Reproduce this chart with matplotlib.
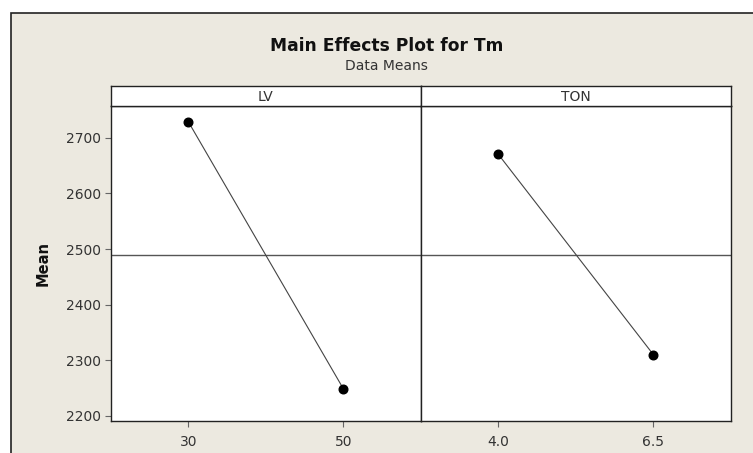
import numpy as np
import matplotlib
matplotlib.use('Agg')
from matplotlib import pyplot as plt
from matplotlib.patches import Rectangle

# data
factors = ['LV', 'TON']
lv_levels = ['30', '50']
lv_means = [2729, 2249]
ton_levels = ['4.0', '6.5']
ton_means = [2670, 2310]
grand_mean = 2490
y_ticks = [2200, 2300, 2400, 2500, 2600, 2700]

levels = [lv_levels, ton_levels]
means = [lv_means, ton_means]

W, H = 753, 453
bg = '#ece9e0'
dark = '#333333'

fig = plt.figure(figsize=(W / 100, H / 100), dpi=100, facecolor='white')

# beige frame, cut off at right and bottom
frame = Rectangle((10.5 / W, -0.1), 1.2, 1 - 12.5 / H + 0.1,
                  transform=fig.transFigure, facecolor=bg,
                  edgecolor='#222222', linewidth=1.2, zorder=-10)
fig.patches.append(frame)

fig.text(386.5 / W, 1 - 45.7 / H, 'Main Effects Plot for Tm',
         ha='center', va='center', fontsize=12.3, fontweight='bold', color='#111111')
fig.text(386.5 / W, 1 - 66.5 / H, 'Data Means',
         ha='center', va='center', fontsize=10, color=dark)

left = 110.7
right = 731
mid = (left + right) / 2
bottom = 1 - 420.7 / H
top = 1 - 105.7 / H
strip_top = 1 - 86 / H
pw = (mid - left) / W

ylim = (2191.5, 2757.5)

for i in range(2):
    x0 = (left + i * (mid - left)) / W
    ax = fig.add_axes([x0, bottom, pw, top - bottom])
    ax.set_facecolor('white')
    xs = np.arange(len(levels[i]))
    ax.axhline(grand_mean, color='#555555', linewidth=1.0, zorder=1)
    ax.plot(xs, means[i], color='#444444', linewidth=0.8, zorder=2)
    ax.plot(xs, means[i], 'o', color='black', markersize=6.2, zorder=3)
    ax.set_xlim(-0.5, 1.5)
    ax.set_ylim(*ylim)
    ax.set_xticks(xs)
    ax.set_xticklabels(levels[i], fontsize=10, color=dark)
    ax.tick_params(axis='x', length=4, width=0.8, color='#666666', pad=6)
    for s in ax.spines.values():
        s.set_color('#222222')
        s.set_linewidth(1.0)
    if i == 0:
        ax.set_yticks(y_ticks)
        ax.set_yticklabels([str(t) for t in y_ticks], fontsize=10, color=dark)
        ax.tick_params(axis='y', length=4, width=0.8, color='#666666', pad=3)
        ax.set_ylabel('Mean', fontsize=10.5, fontweight='bold', color='#111111',
                      labelpad=11)
    else:
        ax.set_yticks([])

    sax = fig.add_axes([x0, top, pw, strip_top - top])
    sax.set_facecolor('white')
    sax.set_xticks([])
    sax.set_yticks([])
    for s in sax.spines.values():
        s.set_color('#222222')
        s.set_linewidth(1.0)
    sax.text(0.5, 0.45, factors[i], ha='center', va='center',
             fontsize=10, color=dark, transform=sax.transAxes)

fig.savefig('out.png', dpi=100, facecolor=fig.get_facecolor())
